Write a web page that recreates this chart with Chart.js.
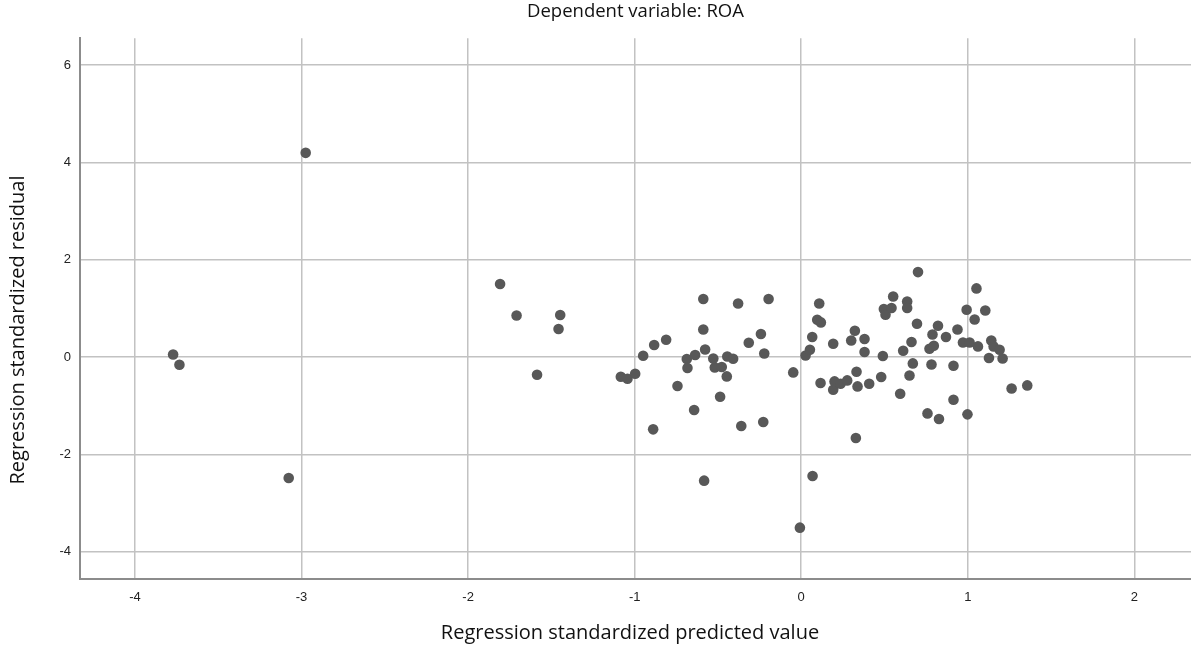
<!DOCTYPE html>
<html>
<head>
<meta charset="utf-8">
<title>Dependent variable: ROA</title>
<script src="https://cdn.jsdelivr.net/npm/chart.js@4/dist/chart.umd.min.js"></script>
<style>
  html, body { margin: 0; padding: 0; background: #fff; }
  #wrap { width: 1191px; height: 646px; position: relative; }
</style>
</head>
<body>
<div id="wrap"><canvas id="residualPlot"></canvas></div>
<script>
// Standardized predicted values (x) and standardized residuals (y)
const predicted = [
  -3.771, -3.733, -3.077, -2.975, -1.808, -1.709, -1.447, -1.457, -1.586, -1.083,
  -1.043, -0.997, -0.949, -0.883, -0.811, -0.889, -0.743, -0.643, -0.687, -0.683,
  -0.637, -0.588, -0.588, -0.577, -0.528, -0.519, -0.477, -0.447, -0.487, -0.444,
  -0.409, -0.379, -0.360, -0.315, -0.242, -0.222, -0.228, -0.196, -0.048, 0.026,
  0.052, 0.066, 0.096, 0.118, 0.108, -0.583, 0.068, -0.008, 0.328, 0.116,
  0.192, 0.192, 0.200, 0.236, 0.276, 0.300, 0.322, 0.332, 0.338, 0.380,
  0.380, 0.408, 0.480, 0.490, 0.496, 0.506, 0.542, 0.552, 0.594, 0.612,
  0.636, 0.636, 0.650, 0.662, 0.670, 0.695, 0.701, 0.758, 0.770, 0.782,
  0.796, 0.788, 0.821, 0.827, 0.869, 0.914, 0.914, 0.938, 0.971, 0.993,
  0.998, 1.011, 1.041, 1.052, 1.105, 1.061, 1.141, 1.155, 1.191, 1.209,
  1.127, 1.263, 1.357
];
const residual = [
  0.053, -0.158, -2.485, 4.195, 1.499, 0.854, 0.862, 0.575, -0.363, -0.405,
  -0.446, -0.343, 0.027, 0.246, 0.355, -1.486, -0.596, -1.089, -0.041, -0.226,
  0.041, 1.191, 0.567, 0.156, -0.029, -0.213, -0.205, -0.398, -0.815, 0.012,
  -0.035, 1.101, -1.417, 0.294, 0.472, 0.074, -1.335, 1.191, -0.316, 0.033,
  0.150, 0.411, 0.766, 0.711, 1.101, -2.540, -2.444, -3.505, -1.664, -0.534,
  0.273, -0.671, -0.501, -0.548, -0.480, 0.341, 0.540, -0.302, -0.603, 0.369,
  0.103, -0.548, -0.411, 0.020, 0.985, 0.869, 1.006, 1.244, -0.754, 0.129,
  1.142, 1.006, -0.378, 0.308, -0.131, 0.684, 1.745, -1.158, 0.170, -0.152,
  0.232, 0.464, 0.643, -1.273, 0.411, -0.179, -0.877, 0.567, 0.300, 0.971,
  -1.178, 0.300, 0.772, 1.410, 0.957, 0.218, 0.341, 0.218, 0.150, -0.029,
  -0.021, -0.645, -0.583
];

// Tick labels shown on each axis
const xTicks = [-4, -3, -2, -1, 0, 1, 2];
const yTicks = [-4, -2, 0, 2, 4, 6];

const points = predicted.map((x, i) => ({ x: x, y: residual[i] }));

const gridColor = '#c2c2c2';
const axisColor = '#8c8c8c';
const tickFont = { family: '"Liberation Sans", Arial, sans-serif', size: 13 };
const labelFont = '20px "Open Sans", "Noto Sans", sans-serif';

// SPSS puts the axis titles a little off the plot centre, so draw them by hand
const axisTitles = {
    id: 'axisTitles',
    afterDraw(chart) {
        const ctx = chart.ctx;
        ctx.save();
        ctx.fillStyle = '#111';
        ctx.font = labelFont;
        ctx.textAlign = 'center';
        ctx.textBaseline = 'middle';
        ctx.fillText('Regression standardized predicted value', 630, 633);
        ctx.translate(18, 330);
        ctx.rotate(-Math.PI / 2);
        ctx.fillText('Regression standardized residual', 0, 0);
        ctx.restore();
    }
};

new Chart(document.getElementById('residualPlot'), {
    type: 'scatter',
    data: {
        datasets: [{
            data: points,
            backgroundColor: '#585858',
            borderColor: '#585858',
            borderWidth: 0,
            pointRadius: 5.3,
            pointHoverRadius: 5.3
        }]
    },
    plugins: [axisTitles],
    options: {
        responsive: true,
        maintainAspectRatio: false,
        animation: false,
        layout: { padding: 0, autoPadding: false },
        plugins: {
            legend: { display: false },
            tooltip: { enabled: false },
            title: {
                display: true,
                text: 'Dependent variable: ROA',
                fullSize: false,
                color: '#111',
                font: { family: '"Open Sans", "Noto Sans", sans-serif', size: 18.5, weight: 'normal' },
                padding: { top: 1, bottom: 15 }
            }
        },
        scales: {
            x: {
                type: 'linear',
                min: -4.33,
                max: 2.34,
                afterBuildTicks: scale => { scale.ticks = xTicks.map(v => ({ value: v })); },
                afterFit: scale => { scale.height = 67; },
                ticks: { color: '#222', font: tickFont, padding: 11 },
                grid: { color: gridColor, lineWidth: 1.5, drawTicks: false },
                border: { display: true, color: axisColor, width: 2 }
            },
            y: {
                type: 'linear',
                min: -4.56,
                max: 6.55,
                afterBuildTicks: scale => { scale.ticks = yTicks.map(v => ({ value: v })); },
                afterFit: scale => { scale.width = 80; },
                ticks: { color: '#222', font: tickFont, padding: 9 },
                grid: { color: gridColor, lineWidth: 1.5, drawTicks: false },
                border: { display: true, color: axisColor, width: 2 }
            }
        }
    }
});
</script>
</body>
</html>
